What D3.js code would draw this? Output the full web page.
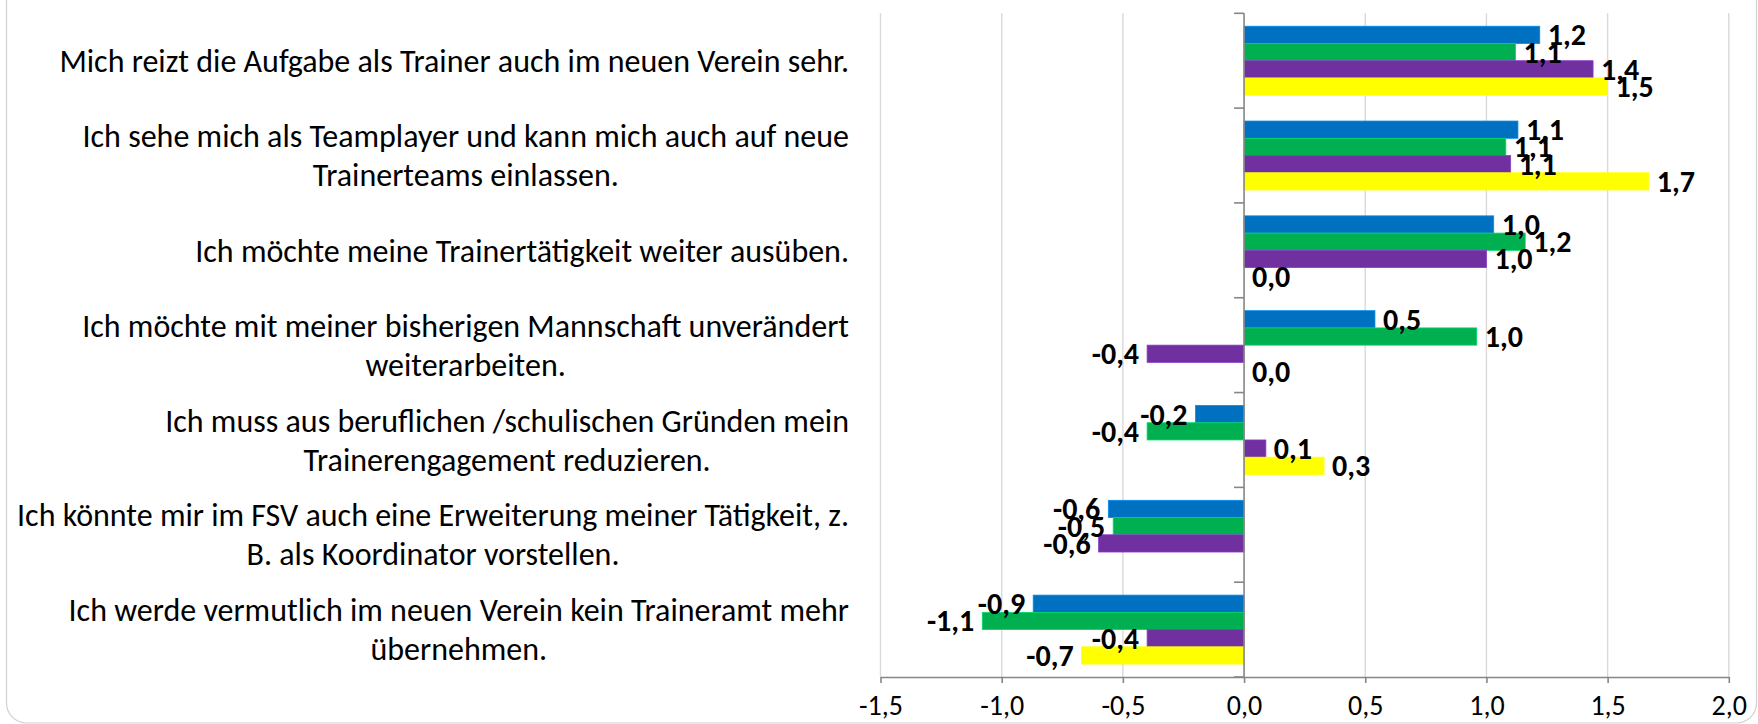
<!DOCTYPE html>
<html>
<head>
<meta http-equiv="content-Type" content="text/html; charset=utf-8"/>
<style>
  body { margin: 0; background: #fff; }
  svg text { font-family: Carlito, Calibri, Lato, sans-serif; fill: #000; }
</style>
</head>
<body>
<div id="chart"></div>

<script src="https://cdn.jsdelivr.net/npm/d3@7"></script>
<script>

// Data

var categories = [
  "Mich reizt die Aufgabe als Trainer auch im neuen Verein sehr.",
  "Ich sehe mich als Teamplayer und kann mich auch auf neue\nTrainerteams einlassen.",
  "Ich möchte meine Trainertätigkeit weiter ausüben.",
  "Ich möchte mit meiner bisherigen Mannschaft unverändert\nweiterarbeiten.",
  "Ich muss aus beruflichen /schulischen Gründen mein\nTrainerengagement reduzieren.",
  "Ich könnte mir im FSV auch eine Erweiterung meiner Tätigkeit, z.\nB. als Koordinator vorstellen.",
  "Ich werde vermutlich im neuen Verein kein Traineramt mehr\nübernehmen."
];

var seriesNames = ["Reihe 1", "Reihe 2", "Reihe 3", "Reihe 4"];

var blueVals   = [1.22, 1.13, 1.03, 0.54, -0.20, -0.56, -0.87];
var greenVals  = [1.12, 1.08, 1.16, 0.96, -0.40, -0.54, -1.08];
var purpleVals = [1.44, 1.10, 1.00, -0.40, 0.09, -0.60, -0.40];
var yellowVals = [1.50, 1.67, 0.00, 0.00, 0.33, null, -0.67];

var xTicks = [-1.5, -1.0, -0.5, 0.0, 0.5, 1.0, 1.5, 2.0];

// Styles

var colors = ["#0070C0", "#00B050", "#7030A0", "#FFFF00"];
var series = [blueVals, greenVals, purpleVals, yellowVals];

var W = 1758, H = 724;
var plot = {left: 880.5, right: 1728.8, top: 13.3, bottom: 677};
var labelRight = 849,
    lineGap = 39,
    catFont = 32,
    valFont = 30,
    tickFont = 28;

var de = d3.formatLocale({decimal: ",", thousands: ".", grouping: [3], currency: ["", " €"], minus: "-"});
var fmt = de.format(".1f");

var svg = d3.select("#chart").append("svg")
    .attr("width", W)
    .attr("height", H);

// chart area border (rounded, top cut off)
svg.append("rect")
    .attr("x", 6.5).attr("y", -40)
    .attr("width", 1750).attr("height", 763)
    .attr("rx", 20).attr("ry", 20)
    .attr("fill", "none")
    .attr("stroke", "#D0D0D0")
    .attr("stroke-width", 1.2);

var x = d3.scaleLinear().domain([-1.5, 2.0]).range([plot.left, plot.right]);
var y = d3.scaleBand().domain(d3.range(categories.length)).range([plot.top, plot.bottom]);
var ySub = d3.scaleBand().domain(d3.range(series.length))
    .range([0, y.bandwidth()])
    .paddingOuter(0.75);

// gridlines
svg.append("g").selectAll("line")
    .data(xTicks.filter(function(t) { return t !== 0; }))
    .enter().append("line")
    .attr("x1", function(d) { return x(d); })
    .attr("x2", function(d) { return x(d); })
    .attr("y1", plot.top)
    .attr("y2", plot.bottom)
    .attr("stroke", "#D9D9D9")
    .attr("stroke-width", 1.4);

// bars
series.forEach(function(vals, s) {
  svg.append("g").selectAll("rect")
      .data(vals.map(function(v, i) { return {v: v, i: i}; }).filter(function(d) { return d.v !== null; }))
      .enter().append("rect")
      .attr("x", function(d) { return Math.min(x(0), x(d.v)); })
      .attr("y", function(d) { return y(d.i) + ySub(s); })
      .attr("width", function(d) { return Math.abs(x(d.v) - x(0)); })
      .attr("height", ySub.bandwidth())
      .attr("fill", colors[s])
      .attr("stroke", d3.color(colors[s]).brighter(0.6))
      .attr("stroke-width", 0.8);
});

// bottom axis
var xAxis = d3.axisBottom(x)
    .tickValues(xTicks)
    .tickSize(6)
    .tickSizeOuter(0)
    .tickPadding(12)
    .tickFormat(fmt);

var gx = svg.append("g")
    .attr("transform", "translate(0," + plot.bottom + ")")
    .call(xAxis);
gx.select(".domain").attr("stroke", "#868686").attr("stroke-width", 1.6);
gx.selectAll(".tick line").attr("stroke", "#868686").attr("stroke-width", 1.6);
gx.selectAll(".tick text")
    .attr("font-family", "Carlito, Calibri, Lato, sans-serif")
    .attr("font-size", tickFont)
    .attr("fill", "#000");

// vertical category axis at zero
svg.append("line")
    .attr("x1", x(0)).attr("x2", x(0))
    .attr("y1", plot.top).attr("y2", plot.bottom)
    .attr("stroke", "#868686")
    .attr("stroke-width", 1.6);

var bounds = y.domain().map(function(i) { return y(i); }).concat([plot.bottom]);
svg.append("g").selectAll("line")
    .data(bounds)
    .enter().append("line")
    .attr("x1", x(0) - 10).attr("x2", x(0))
    .attr("y1", function(d) { return d; })
    .attr("y2", function(d) { return d; })
    .attr("stroke", "#868686")
    .attr("stroke-width", 1.6);

// data labels
series.forEach(function(vals, s) {
  svg.append("g").selectAll("text")
      .data(vals.map(function(v, i) { return {v: v, i: i}; }).filter(function(d) { return d.v !== null; }))
      .enter().append("text")
      .attr("x", function(d) { return d.v >= 0 ? x(d.v) + 8 : x(d.v) - 8; })
      .attr("y", function(d) { return y(d.i) + ySub(s) + ySub.bandwidth() / 2; })
      .attr("dy", "0.35em")
      .attr("text-anchor", function(d) { return d.v >= 0 ? "start" : "end"; })
      .attr("font-size", valFont)
      .attr("font-weight", "bold")
      .text(function(d) { return fmt(d.v); });
});

// category labels: lines centred on each other, block right-aligned
categories.forEach(function(c, i) {
  var lines = c.split("\n");
  var g = svg.append("g");
  var cy = y(i) + y.bandwidth() / 2;
  var texts = lines.map(function(l, k) {
    return g.append("text")
        .attr("y", cy + (k - (lines.length - 1) / 2) * lineGap)
        .attr("dy", "0.35em")
        .attr("text-anchor", "middle")
        .attr("font-size", catFont)
        .text(l);
  });
  var maxW = d3.max(texts, function(t) { return t.node().getComputedTextLength(); });
  texts.forEach(function(t) { t.attr("x", labelRight - maxW / 2); });
});

</script>
</body>
</html>
